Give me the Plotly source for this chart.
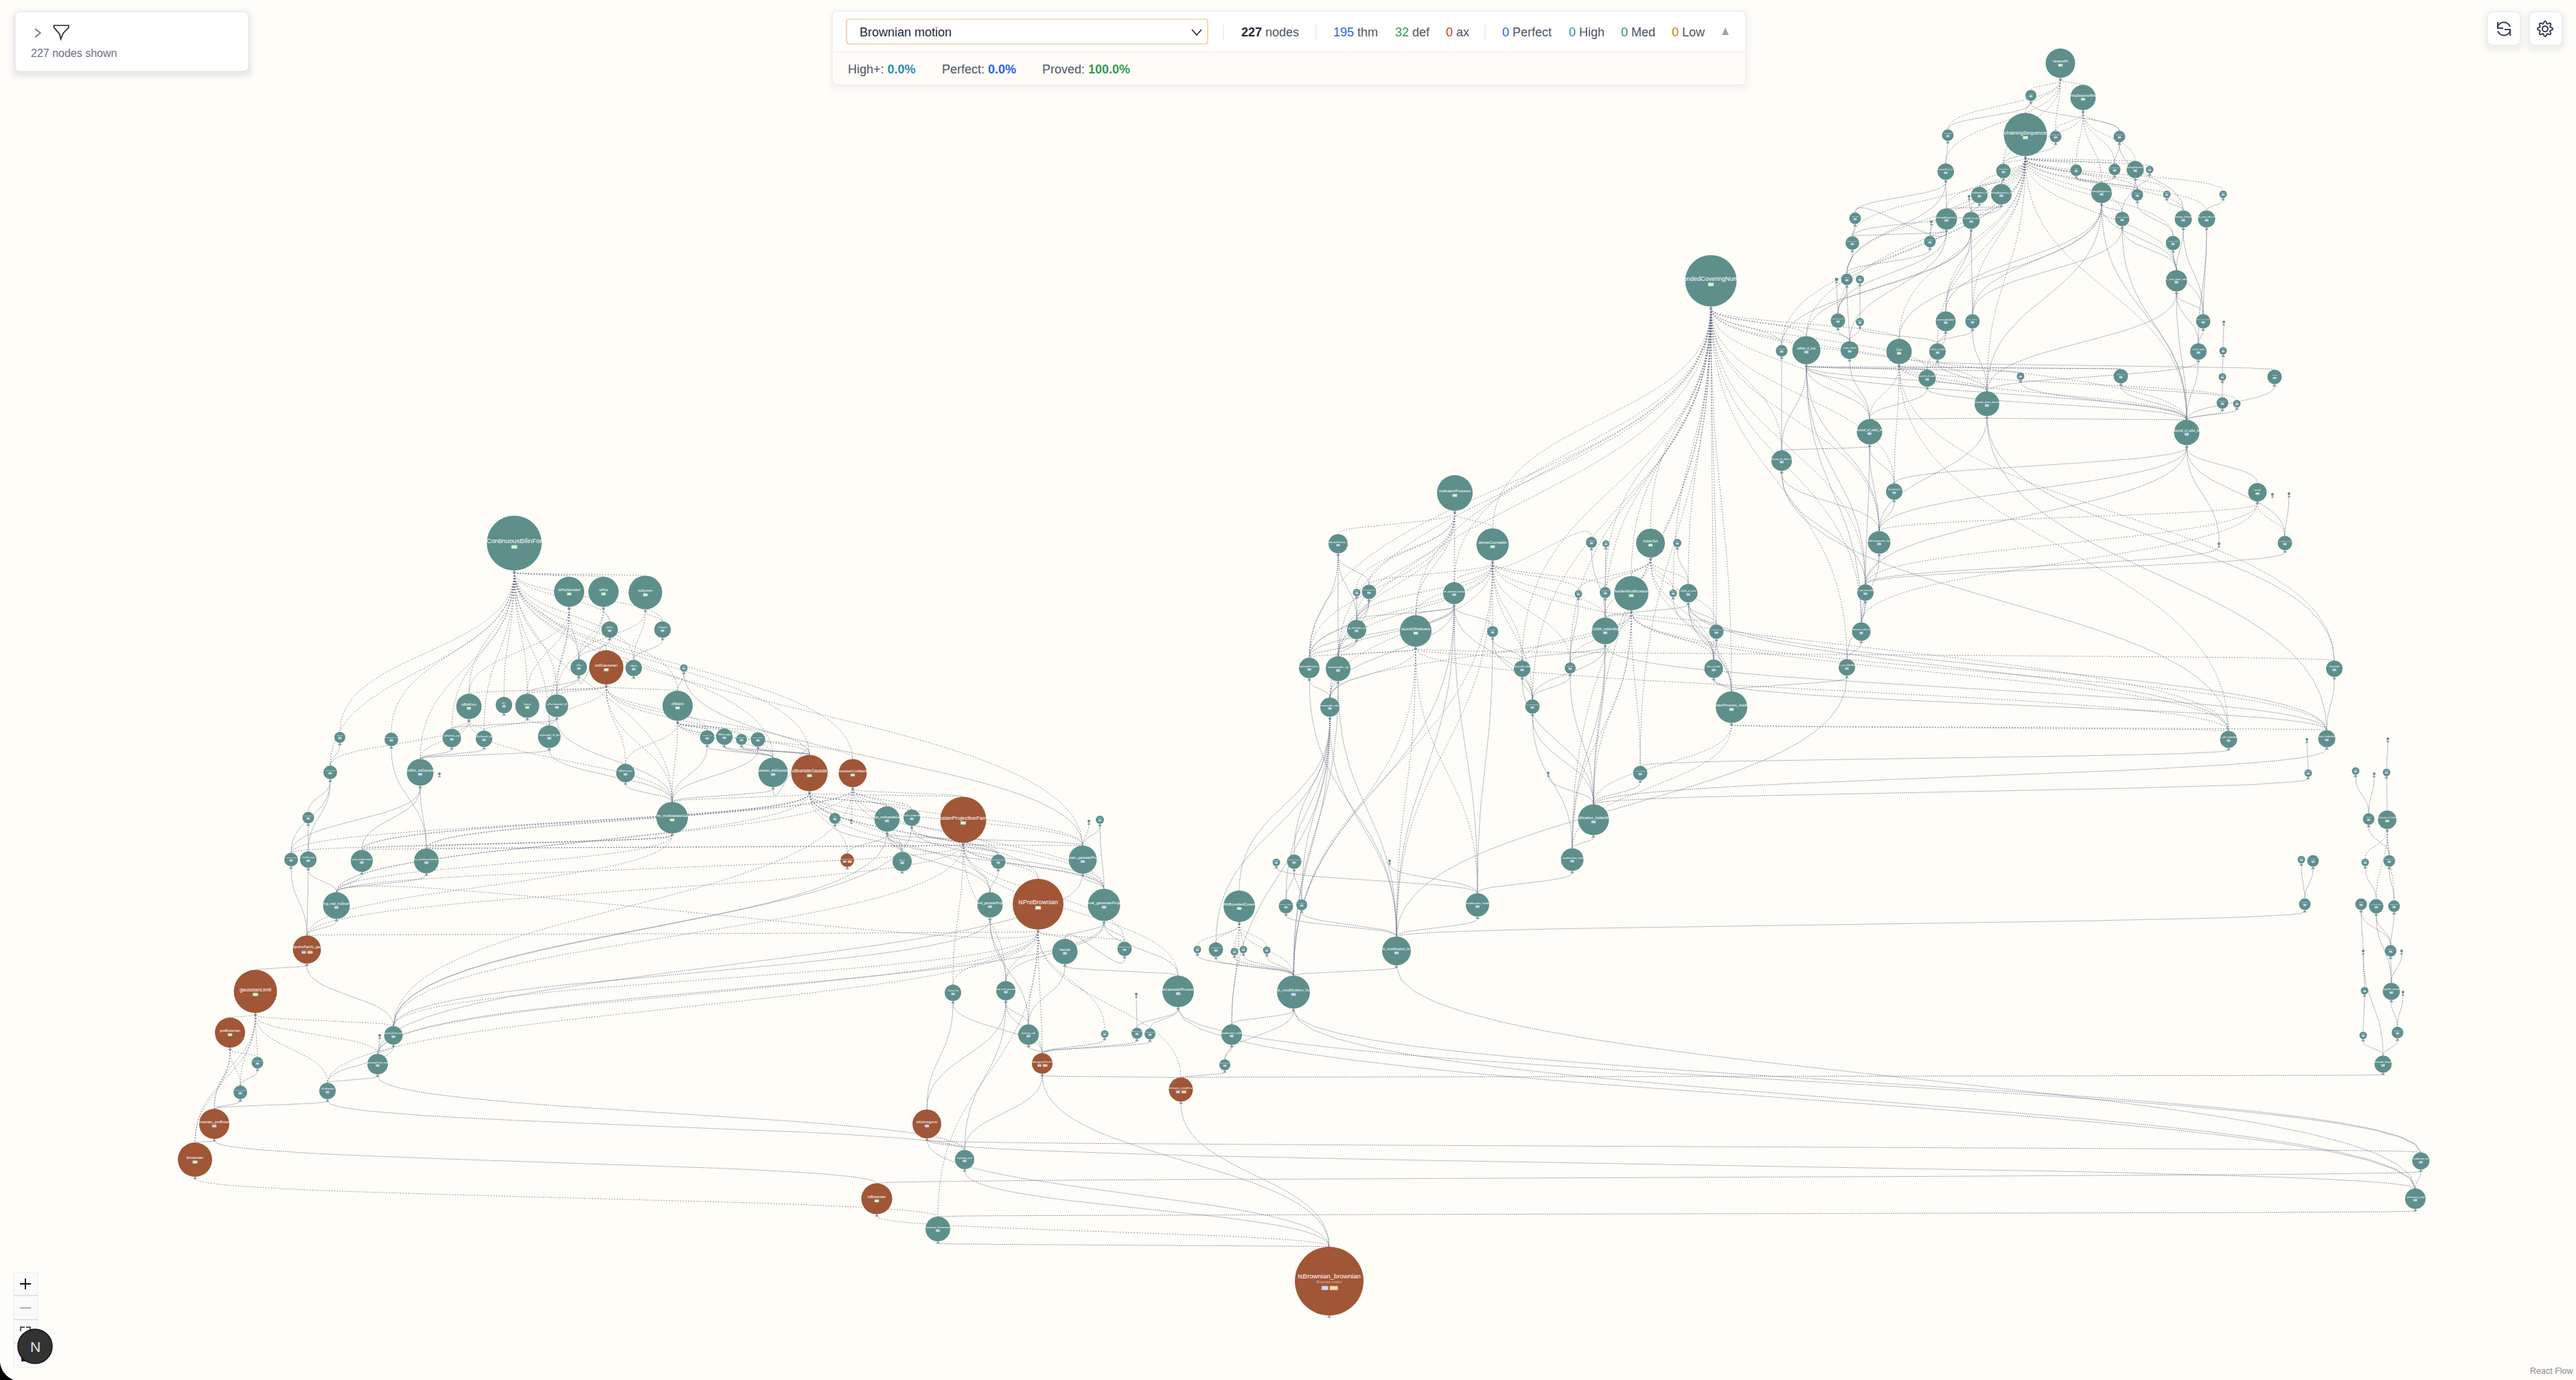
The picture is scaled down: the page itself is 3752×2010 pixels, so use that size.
import numpy as np
import plotly.graph_objects as go

W, H = 3752, 2010

# ---- nodes (pixel position on the canvas, diameter) ----
node_x = [
    3001, 2958, 3034, 2950, 2837, 2994, 3087, 2834, 2918, 3024,
    3080, 3110, 3131, 2883, 2915, 2868, 3061, 3113, 3156, 3238,
    2835, 2871, 2813, 3091, 3180, 3214, 2811, 3165, 3170, 2702,
    2698, 2492, 2675, 2690, 2709, 2677, 2709, 2834, 2873, 3209,
    3239, 2595, 2631, 2694, 2766, 2822, 3202, 3238, 2807, 2943,
    3089, 3237, 3313, 2894, 3237, 3258, 2723, 3185, 2595, 2759,
    3288, 3310, 3334, 2737, 3328, 3232, 2404, 2443, 2459, 2437,
    2717, 2500, 2711, 2496, 2690, 2522, 3400, 2119, 1949, 2174,
    2318, 2339, 1976, 1994, 2118, 2299, 2338, 2376, 1976, 2062,
    2174, 2338, 1907, 1949, 2217, 2287, 1937, 2232, 2389, 2255,
    2024, 1859, 1885, 2290, 2321, 1805, 1873, 1896, 2152, 1744,
    1771, 1798, 1811, 1845, 2034, 1716, 1884, 1794, 1784, 3246,
    3389, 3360, 3478, 3362, 3431, 3458, 3476, 3450, 3477, 3352,
    3369, 3445, 3480, 3357, 3439, 3461, 3487, 3482, 3442, 3498,
    3444, 3483, 3500, 3442, 3492, 3471, 3526, 3518, 749, 829,
    879, 940, 888, 965, 843, 883, 923, 996, 683, 734,
    768, 811, 987, 658, 705, 800, 1030, 1055, 1080, 1104,
    612, 640, 911, 1126, 1179, 1242, 979, 1216, 1240, 1292,
    1328, 1403, 1586, 1602, 1314, 1454, 1577, 1234, 1442, 1512,
    1608, 1551, 1638, 1388, 1465, 1655, 1498, 1609, 1656, 1675,
    1518, 1720, 495, 570, 481, 449, 424, 449, 527, 621,
    490, 447, 372, 335, 573, 553, 375, 550, 350, 477,
    312, 284, 1277, 1350, 1405, 1366, 1936,
]
node_y = [
    92, 139, 142, 196, 197, 199, 199, 250, 249, 248,
    247, 247, 247, 284, 283, 286, 281, 284, 283, 283,
    319, 321, 323, 319, 319, 319, 352, 354, 409, 318,
    354, 409, 407, 407, 407, 467, 469, 468, 468, 468,
    469, 511, 510, 510, 512, 512, 512, 511, 551, 548,
    548, 549, 549, 588, 587, 588, 629, 630, 671, 716,
    717, 720, 719, 790, 791, 792, 791, 791, 864, 864,
    863, 920, 920, 974, 972, 1030, 974, 718, 792, 793,
    790, 792, 863, 862, 864, 865, 863, 864, 917, 919,
    920, 919, 973, 974, 974, 973, 1030, 1029, 1126, 1126,
    1254, 1256, 1255, 1252, 1194, 1320, 1320, 1318, 1318, 1383,
    1383, 1386, 1383, 1384, 1385, 1444, 1445, 1507, 1551, 1077,
    1076, 1077, 1076, 1126, 1123, 1127, 1125, 1193, 1194, 1252,
    1254, 1256, 1254, 1317, 1317, 1320, 1320, 1385, 1385, 1385,
    1443, 1444, 1445, 1508, 1504, 1550, 1691, 1746, 791, 862,
    862, 863, 917, 917, 972, 972, 973, 973, 1029, 1027,
    1028, 1028, 1028, 1075, 1076, 1073, 1074, 1073, 1077, 1077,
    1125, 1127, 1126, 1125, 1126, 1126, 1191, 1192, 1195, 1193,
    1191, 1194, 1196, 1194, 1255, 1255, 1252, 1253, 1318, 1317,
    1318, 1386, 1382, 1446, 1443, 1448, 1507, 1506, 1505, 1506,
    1549, 1587, 1074, 1077, 1125, 1191, 1252, 1252, 1254, 1254,
    1319, 1383, 1444, 1504, 1508, 1508, 1548, 1550, 1591, 1589,
    1637, 1689, 1746, 1637, 1689, 1790, 1866,
]
node_d = [
    43, 16, 37, 63, 17, 17, 17, 24, 21, 17,
    17, 25, 11, 24, 30, 4, 30, 17, 11, 11,
    31, 25, 4, 21, 25, 25, 17, 21, 31, 17,
    20, 75, 5, 17, 12, 21, 12, 29, 21, 21,
    4, 17, 41, 26, 37, 24, 24, 11, 25, 11,
    21, 11, 21, 36, 17, 11, 37, 37, 30, 24,
    27, 4, 4, 33, 21, 4, 42, 12, 27, 11,
    24, 21, 27, 27, 24, 46, 24, 52, 28, 47,
    16, 10, 11, 21, 32, 11, 16, 50, 28, 46,
    16, 39, 30, 36, 24, 16, 28, 21, 21, 4,
    4, 11, 21, 33, 45, 46, 21, 16, 34, 11,
    21, 11, 11, 11, 42, 46, 48, 30, 16, 25,
    25, 4, 4, 11, 11, 4, 11, 17, 27, 11,
    17, 11, 17, 17, 17, 21, 17, 17, 4, 4,
    11, 25, 4, 11, 17, 25, 25, 30, 80, 44,
    44, 49, 24, 24, 24, 50, 24, 11, 37, 24,
    35, 33, 44, 27, 24, 33, 21, 24, 16, 21,
    39, 4, 27, 43, 53, 41, 46, 16, 4, 37,
    24, 67, 4, 12, 28, 21, 41, 20, 37, 74,
    47, 37, 21, 24, 28, 4, 30, 11, 16, 16,
    30, 35, 16, 20, 20, 17, 20, 24, 32, 36,
    39, 41, 63, 44, 27, 4, 17, 30, 20, 24,
    44, 50, 45, 42, 28, 36, 100,
]
node_labels = [
    "nearestPt", "eq_1", "chainingSequenceReverse", "chainingSequence", "eq_nearestPt", "nearestPt_mem", "nearestPt_le", "nearestPt_or_le", "nearestPtRev", "eq_1",
    "nearestPt_dist", "chainingSequence_le", "chain_le", "confSequence_le", "chainingSequence_mem", "", "chainingSequence_dist", "chain_dist", "chain_mem", "chain_sub",
    "chainingSequence_le", "le_edist_to_sum", "", "average_chaining", "average_chaining", "le_cover_edist_to", "le_edist_le", "le_sum_edist", "le_sum_rpow_edist", "chain_sum",
    "chain_le_sum", "boundedCoveringNumber", "", "cover_le", "cover", "cardinal_cover", "mem_cov", "coveringNumber", "cover_edist_le", "sum_rpow_edist",
    "", "card_cover", "edian_lt_top", "cover_subset", "Cov", "card_le_of_mem", "card_le_rpow", "le_rpow", "card_le_of_mem", "le",
    "edist_le_of", "le_pow", "subset", "second_term_bound", "card_pow", "rpow_le", "bound_of_edist_le", "bound_of_edist_le", "bound_of_edist_le", "dist_bound_of",
    "overall", "", "", "holderexponent_chain", "bounds_le_sum", "", "holderSet", "holder_le", "IsWith_of_mem", "holder_sub",
    "le_sum_measurable", "measurable_of", "measure_edist_le", "dists_of_mem", "le_sum_holderMod", "IndicatorProcess_holderMod", "measurable", "indicatorProcess", "indicatorProcess_eq", "denseCountable",
    "measure_le", "le_mem", "measure", "set_measurable", "mem_denseCountable", "measure_le", "countable_of", "holderModification", "ge_limUnder_eq", "isLimitOfIndicator",
    "indicator", "OnWith_holderMod", "indicatorProcess_le", "measurable_eq", "measurable_holder", "le_measure", "measurable_edist", "ae_measurable", "eqOn_holder", "",
    "", "measure_eq", "measure_dense", "ae_modification_holder", "modification_holderMod", "WithBoundedCovering", "exists_of_edist_le", "ae_edist_le", "modification_holder", "le_of_edist",
    "hasBounded", "eq_rpow", "rpow_le", "le_rpow", "exists_modification_holder", "isGaussianProcess", "exists_modification_holder", "modification_holder", "modification_eq", "le_edist_holderMod",
    "exists_holderMod", "", "", "le_cover_sum", "le_cover", "", "le_bound", "isCauchy", "isCauchy_of_tendsto", "le_volume",
    "volume", "le_bound", "tendsto_of_le", "measure_le", "integral", "le_measurable", "integral_mul", "bound_le", "", "",
    "le", "integrable_measure", "", "lintegral", "lintegral_le", "measurable_lintegral", "modification_lim", "continuous_mod", "ContinuousBilinForm", "isPosSemidef",
    "isPos", "isSymm", "toIsPos", "toIsSymm", "isPos", "stdGaussian", "isSymm", "ofMatrix", "isBilinForm", "eq_1",
    "linear", "isPosSemidef_iff", "ofMatrix", "IsBilinForm_add", "isPosSemidef_sub", "isSemidef_iff_bilin", "ofMatrix_eq", "ofMatrix_apply", "toBilin_apply", "trace_ofMatrix",
    "coeBilin_stdGaussian", "", "ofMatrix_basis", "gaussian_stdGaussian", "multivariateGaussian", "brownianCovMatrix", "coeBilin_multivariateGaussian", "eq_1", "", "gaussian_multivariateGaussian",
    "charFun_multivariate", "gaussianProjectiveFamily", "", "isProjective", "eq_1", "gaussianProject", "isGaussian_gaussianProjective", "brownianProjective", "map_eval_gaussianProjective", "IsPreBrownian",
    "map_eval_gaussianProjective", "hasLaw", "gaussianProject", "hasLaw_eq", "map_eval_gaussian", "", "hasLaw_sub", "hasLaw_eq", "hasLaw_sub_eval", "hasLaw_integrable",
    "KolmogorovProcess", "continuous_modification", "isPos_add", "isPosSemidef_eq", "ofMatrix_add", "map_charFun", "charFun_basis", "charFun_map", "eval_multivariate", "charFun_multivariateGaussian",
    "using_eval_multivariate", "isProjectiveFamily_gaussian", "gaussianLimit", "preBrownian", "gaussianLimit_eval", "", "eval_covariance", "gaussianLimit_eval", "eval_eq_add", "isPreBrownian",
    "IsBrownian_preBrownian", "brownian", "isBrownian", "isKolmogorov", "hasIndep_eval", "hasLaw_brownian", "IsBrownian_brownian",
]

# ---- which nodes carry a definition badge / a proof badge pair / an orange fill ----
def_ids = [0, 2, 3, 31, 44, 60, 66, 77, 79, 87, 89, 105, 148, 149, 150, 151, 155, 158, 160, 162, 174, 175, 176, 181, 189, 212, 213, 221, 222, 128, 75, 182]
pair_ids = [187, 200, 201, 211, 226]
orange_ids = [155, 174, 175, 181, 187, 189, 200, 201, 211, 212, 213, 220, 221, 222, 223, 226]
subtitles = {187: "Brownian covariance", 200: "Kolmogorov process", 201: "continuous modification", 211: "projective family", 226: "Brownian motion"}

# ---- edges: upper node -> nodes below that depend on it ----
deps_top = {
    0: [1, 2, 3, 4, 5, 7, 8],
    1: [4, 6],
    2: [5, 6, 8, 9, 10, 11, 16],
    3: [8, 9, 10, 11, 12, 13, 14, 16, 17, 18, 19, 20, 21, 23, 24, 25, 26, 27, 28, 30, 33, 35, 37, 38, 41, 42, 44, 45, 53, 57],
    4: [7], 5: [8], 6: [10, 24], 7: [20, 29, 33], 8: [13, 14], 9: [16, 17],
    10: [16], 11: [17, 23], 12: [17], 13: [21], 14: [20, 21, 30], 15: [21], 16: [23, 28, 37, 38, 44, 53, 57],
    17: [27], 18: [24], 19: [25], 20: [29, 30, 35, 43], 21: [37, 38, 41, 42], 22: [26], 23: [28, 38, 57],
    24: [28, 39], 25: [39, 46], 26: [33], 27: [28, 39], 28: [39, 46, 53, 57], 29: [30], 30: [33],
}
deps_mid = {
    31: [41, 42, 43, 44, 48, 53, 56, 57, 58, 59, 63, 66, 68, 69, 70, 71, 72, 73, 74, 75, 79, 84, 86, 87, 89, 91, 92, 93, 94, 95, 96, 97, 98, 103, 104],
    32: [35], 33: [35, 43], 34: [36], 35: [43], 36: [43, 45], 37: [45, 48], 38: [45, 53], 39: [46], 40: [47],
    41: [58], 42: [48, 49, 50, 53, 56, 57, 58, 63, 70, 72], 43: [56], 44: [48, 50, 53, 55, 56, 57, 59, 76, 119],
    45: [48, 52, 53], 46: [53, 57], 47: [51], 48: [56, 57], 49: [57], 50: [54, 57], 51: [54], 52: [57], 53: [56, 57, 63, 76, 120],
    54: [57], 55: [57], 56: [58, 59, 63, 70], 57: [59, 60, 63, 64, 65, 70], 58: [63, 70, 119], 59: [63],
    60: [63, 64, 70, 72], 62: [64], 63: [70, 72], 64: [70], 65: [70], 66: [68, 69, 71, 73, 75, 85, 86, 87, 91],
    67: [68], 68: [71, 73, 75, 91, 119, 120], 69: [73], 70: [72, 74], 71: [73, 75], 72: [74], 73: [75, 120], 74: [75, 114], 75: [103, 104, 119, 120], 76: [120],
}
deps_center = {
    77: [78, 79, 82, 83, 84, 88, 89, 92, 93],
    78: [83, 88, 92, 93], 79: [80, 83, 84, 85, 86, 88, 89, 90, 91, 92, 93, 94, 95, 96, 97, 114, 116, 119],
    80: [91], 81: [86], 82: [88], 83: [88, 92, 93], 84: [88, 89, 90, 92, 93, 96, 97, 108, 114, 116],
    85: [95], 86: [91], 87: [71, 73, 91, 94, 95, 96, 98, 103, 104, 119, 120], 88: [92, 93],
    89: [76, 92, 93, 94, 96, 108, 114, 116, 119], 90: [94, 97, 108], 91: [94, 95, 97, 103, 104, 120], 92: [96, 114], 93: [96, 114, 116],
    94: [97, 104], 95: [97, 104], 96: [102, 105, 106, 107, 110, 114, 116, 117], 97: [103, 104], 98: [104], 99: [104],
    100: [108], 101: [108], 102: [106, 107], 103: [108], 104: [103], 105: [109, 110, 111, 112, 113, 116, 117],
    106: [114], 107: [114], 108: [114], 109: [116], 110: [116], 111: [116], 112: [116], 113: [116],
    114: [116, 147], 115: [146, 147], 116: [117, 118, 146, 147], 117: [118], 118: [201],
}
deps_right = {
    119: [98], 120: [104], 121: [123], 122: [126], 123: [104], 124: [127], 125: [127], 126: [128], 127: [132], 128: [131, 132, 135, 136],
    129: [133], 130: [133], 131: [135], 132: [136], 133: [114], 134: [137, 138], 135: [137, 141], 136: [137], 137: [141],
    138: [140, 145], 139: [141], 140: [143], 141: [144], 142: [144], 143: [145], 144: [145], 145: [201], 146: [147, 222], 147: [225],
}
deps_left = {
    148: [149, 150, 151, 152, 153, 154, 156, 158, 159, 160, 161, 162, 163, 164, 165, 170, 173, 174, 175, 176, 186, 202, 203, 204],
    149: [154, 158, 160, 161, 165], 150: [152, 154, 161], 151: [153, 154, 156], 152: [154], 153: [156], 154: [155, 160, 161],
    155: [158, 160, 161, 162, 165, 166, 172, 173, 174, 176], 157: [162, 186], 158: [163, 164, 170, 176, 204], 160: [164, 165],
    161: [163, 165, 176], 162: [166, 167, 168, 169, 172, 173, 174, 175, 176], 163: [170], 164: [170], 165: [170, 176],
    166: [173, 176], 167: [173, 174], 168: [173, 174], 169: [174, 176], 170: [206, 208, 209], 172: [176], 173: [174, 176],
    174: [176, 177, 179, 180, 181, 184, 185, 186, 187, 188, 189, 190, 206, 208, 209, 210], 175: [178, 179, 180, 181, 184, 186, 190, 208, 209, 210, 214],
    176: [206, 208, 209, 210, 211], 177: [184], 179: [184, 185, 186, 187, 188, 190, 214], 180: [185, 190, 214],
    181: [185, 186, 188, 189, 190, 192, 193, 194, 208, 209, 210, 211, 214, 115], 182: [186], 183: [186, 190], 185: [188], 186: [190, 217],
    188: [194, 196, 214], 189: [191, 192, 193, 194, 196, 197, 200, 201, 210, 211, 214, 217, 219, 225], 190: [115, 191, 192, 194, 217], 191: [115, 196], 192: [191],
    193: [200, 223], 194: [196, 200, 223, 224], 195: [198], 196: [200], 197: [200], 198: [200], 199: [200], 115: [198, 199], 200: [201, 224, 226], 201: [226],
    202: [204], 203: [209], 204: [205, 206, 207], 205: [207], 206: [211], 207: [210, 211], 208: [210], 209: [210], 210: [211], 211: [212, 214],
    212: [213, 214, 216, 217, 218, 219, 220, 221], 213: [216, 218, 220, 221], 214: [217, 219], 215: [217], 216: [218], 217: [219, 224], 218: [220], 219: [220, 224],
    220: [221, 222], 221: [225], 222: [226], 223: [146, 147, 226], 224: [226], 225: [226],
}

# ---- toolbar text ----
stat_labels = ["<b>227</b> nodes", "195 thm", "32 def", "0 ax", "0 Perfect", "0 High", "0 Med", "0 Low"]
stat_x = [1806, 1940, 2030, 2104, 2186, 2283, 2359, 2433]
stat_colors = ["#1f2937", "#2563eb", "#2e9e4f", "#d03030", "#2563eb", "#2b8fb0", "#2f8f6f", "#b8860b"]
pct_labels = ["High+:", "Perfect:", "Proved:"]
pct_values = ["0.0%", "0.0%", "100.0%"]
pct_x = [1233, 1370, 1516]
pct_colors = ["#2b8fb0", "#2563eb", "#2e9e4f"]

BG = "#fefdf8"
TEAL = "#5e8f8b"
ORANGE = "#a05637"
EDGE = "rgba(100,108,134,0.82)"
FONT = "Liberation Sans"


def edge_points(x1, y1, x2, y2, n=26):
    """bezier as react flow draws it, vertical tangent at both ends"""
    d = y2 - y1
    off = 0.5 * d if d >= 0 else 6.25 * np.sqrt(-d)
    t = np.linspace(0, 1, n)
    c1, c2 = y1 + off, y2 - off
    xs = (1 - t) ** 3 * x1 + 3 * (1 - t) ** 2 * t * x1 + 3 * (1 - t) * t**2 * x2 + t**3 * x2
    ys = (1 - t) ** 3 * y1 + 3 * (1 - t) ** 2 * t * c1 + 3 * (1 - t) * t**2 * c2 + t**3 * y2
    return xs, ys


def rounded(x0, y0, x1, y1, r):
    return (f"M{x0+r},{y0} L{x1-r},{y0} Q{x1},{y0} {x1},{y0+r} L{x1},{y1-r} Q{x1},{y1} {x1-r},{y1} "
            f"L{x0+r},{y1} Q{x0},{y1} {x0},{y1-r} L{x0},{y0+r} Q{x0},{y0} {x0+r},{y0} Z")


def poly(xs, ys, close=False):
    p = "M" + " L".join(f"{a:.2f},{b:.2f}" for a, b in zip(xs, ys))
    return p + (" Z" if close else "")


def panel(x0, y0, x1, y1, r, fill="white", line="#e3e5ea", shadow=1.0):
    out = []
    for grow, alpha in [(10, 0.012), (7, 0.018), (4, 0.025), (2, 0.03)]:
        out.append(dict(type="path", path=rounded(x0 - grow, y0 - grow + 4, x1 + grow, y1 + grow + 4, r + grow),
                        fillcolor=f"rgba(30,40,60,{alpha * shadow})", line_width=0, layer="above"))
    out.append(dict(type="path", path=rounded(x0, y0, x1, y1, r), fillcolor=fill,
                    line=dict(color=line, width=1), layer="above"))
    return out


def stroke(path, color="#1f2937", width=1.6, fill=None):
    s = dict(type="path", path=path, line=dict(color=color, width=width), layer="above")
    if fill:
        s["fillcolor"] = fill
    return s


# sample all edges
all_deps = [deps_top, deps_mid, deps_center, deps_right, deps_left]
def_set = set(def_ids)
solid_x, solid_y, dash_x, dash_y = [], [], [], []
for deps in all_deps:
    for up, lows in deps.items():
        for lo in lows:
            xs, ys = edge_points(node_x[up], node_y[up] + node_d[up] / 2 + 3,
                                 node_x[lo], node_y[lo] - node_d[lo] / 2)
            if up in def_set:
                dash_x += list(xs) + [None]
                dash_y += list(ys) + [None]
            else:
                solid_x += list(xs) + [None]
                solid_y += list(ys) + [None]

fig = go.Figure()
fig.add_trace(go.Scatter(x=solid_x, y=solid_y, mode="lines", hoverinfo="skip",
                         line=dict(color=EDGE, width=0.8, dash="2px,1px")))
fig.add_trace(go.Scatter(x=dash_x, y=dash_y, mode="lines", hoverinfo="skip",
                         line=dict(color=EDGE, width=0.8, dash="2px,2px")))

# arrow heads under each node
fig.add_trace(go.Scatter(x=node_x, y=[y + d / 2 + 2 for y, d in zip(node_y, node_d)], mode="markers", hoverinfo="skip",
                         marker=dict(symbol="triangle-up", size=[5 if d > 5 else 4 for d in node_d], color="#8d94a8", line_width=0, opacity=1)))

# node circles
orange_set = set(orange_ids)
fig.add_trace(go.Scatter(x=node_x, y=node_y, mode="markers", text=node_labels, hoverinfo="text",
                         marker=dict(size=node_d, line_width=0, opacity=1,
                                     color=[ORANGE if i in orange_set else TEAL for i in range(len(node_x))])))

# labels, cropped to the circle like the overflow hidden in the app
shown, sizes, lab_x, lab_y = [], [], [], []
for i, (name, d) in enumerate(zip(node_labels, node_d)):
    if d < 10 or not name:
        continue
    fs = max(min(d * 0.12, 9.6), 1)
    keep = int(d / (fs * 0.49)) + 1
    if len(name) > keep:
        cut = (len(name) - keep) // 2
        name = name[cut:cut + keep]
    shown.append(name)
    sizes.append(fs)
    lab_x.append(node_x[i])
    lab_y.append(node_y[i] - (0.067 * d if i in pair_ids else 2.3))
fig.add_trace(go.Scatter(x=lab_x, y=lab_y, mode="text", text=shown, hoverinfo="skip",
                         textfont=dict(family=FONT, size=sizes, color="#ffffff")))
fig.add_trace(go.Scatter(x=[node_x[i] for i in subtitles], y=[node_y[i] + 0.02 * node_d[i] for i in subtitles],
                         mode="text", text=list(subtitles.values()), hoverinfo="skip",
                         textfont=dict(family=FONT, size=[max(node_d[i] * 0.05, 1) for i in subtitles], color="rgba(255,255,255,0.6)")))

shapes = []
# status badges
for i, d in enumerate(node_d):
    if d < 10:
        continue
    bw = 3.5 + 0.06 * d
    bh = bw * 0.6
    cx, cy = node_x[i], node_y[i] + 0.07 * d
    if i in pair_ids:
        cy = node_y[i] + 0.1 * d
        shapes.append(dict(type="rect", x0=cx - bw - 1.5, x1=cx - 1.5, y0=cy - bh / 2, y1=cy + bh / 2, layer="above",
                           fillcolor="#c9d8fb", line=dict(color="#9db4ea", width=0.4)))
        shapes.append(dict(type="rect", x0=cx + 1, x1=cx + 1 + bw * 1.2, y0=cy - bh / 2, y1=cy + bh / 2, layer="above",
                           fillcolor="#fcd9a8", line=dict(color="#e8b878", width=0.4)))
    else:
        col = "#d6f5d6" if i in def_set else "#c9d8fb"
        shapes.append(dict(type="rect", x0=cx - bw / 2, x1=cx + bw / 2, y0=cy - bh / 2, y1=cy + bh / 2, layer="above",
                           fillcolor=col, line=dict(color="#9fcfa8" if i in def_set else "#9db4ea", width=0.4)))

# filter panel
shapes += panel(22, 17, 362, 104, 9)
shapes.append(stroke("M51,42 L59,48 L51,54", "#6b7280", 1.6))
shapes.append(stroke("M78.5,37 L100,37 L100,40 L92,48.5 L88.5,57 L87,50 L78.5,40 Z", "#1f2937", 1.7))

# toolbar panel
shapes += panel(1212, 16, 2543, 124, 8, shadow=0.35)
shapes.append(dict(type="path", path="M1213,76 L2542,76 L2542,116 Q2542,123 2535,123 L1220,123 Q1213,123 1213,116 Z",
                   fillcolor="#fffcf8", line_width=0, layer="above"))
shapes.append(dict(type="line", x0=1213, x1=2542, y0=76, y1=76, line=dict(color="#f5e8dc", width=1), layer="above"))
shapes.append(dict(type="path", path=rounded(1233, 28, 1759, 64, 4), fillcolor="white", line=dict(color="#f6b872", width=1.2), layer="above"))
shapes.append(stroke("M1736,43 L1743,51 L1750,43", "#1f2937", 1.5))
for sx in [1782, 1917, 2163]:
    shapes.append(dict(type="line", x0=sx, x1=sx, y0=36, y1=58, line=dict(color="#dcdfe4", width=1), layer="above"))
shapes.append(dict(type="path", path="M2508,51 L2513,40 L2518,51 Z", fillcolor="#9ca3af", line_width=0, layer="above"))

# top right buttons
shapes += panel(3623, 17, 3671, 66, 9, shadow=0.6)
shapes += panel(3684, 17, 3732, 66, 9, shadow=0.6)
ang = np.radians(np.linspace(-170, -20, 24))
shapes.append(stroke(poly(3647 + 9.5 * np.cos(ang), 42 + 9.5 * np.sin(ang)), "#374151", 2))
ang = np.radians(np.linspace(10, 160, 24))
shapes.append(stroke(poly(3647 + 9.5 * np.cos(ang), 42 + 9.5 * np.sin(ang)), "#374151", 2))
shapes.append(stroke("M3638,32 L3638,41 L3646,41", "#374151", 2))
shapes.append(stroke("M3656,52 L3656,43 L3648,43", "#374151", 2))
ang = np.linspace(0, 2 * np.pi, 97)
gear_r = 9.5 + 1.6 * np.cos(8 * ang)
shapes.append(stroke(poly(3707 + gear_r * np.cos(ang), 42 + gear_r * np.sin(ang), True), "#374151", 2))
shapes.append(stroke(poly(3707 + 4 * np.cos(ang), 42 + 4 * np.sin(ang), True), "#374151", 2))

# zoom controls bottom left
shapes.append(dict(type="path", path="M0,1985 Q3,2003 20,2010 L0,2010 Z", fillcolor="#050505", line_width=0))
shapes.append(dict(type="rect", x0=20, x1=55, y0=1853, y1=1992, fillcolor="#fafafa", line=dict(color="#eeeeee", width=1), layer="above"))
for sy in [1887, 1922, 1956]:
    shapes.append(dict(type="line", x0=20, x1=55, y0=sy, y1=sy, line=dict(color="#c4d0dc", width=1), layer="above"))
shapes.append(stroke("M29,1870 L45,1870 M37,1862 L37,1878", "#111111", 1.8))
shapes.append(stroke("M29,1905 L45,1905", "#a8a8a8", 1.8))
shapes.append(stroke("M30,1939 L30,1933 L36,1933 M38,1933 L44,1933 L44,1939", "#222222", 1.5))
shapes.append(dict(type="rect", x0=31, x1=43, y0=1968, y1=1983, fillcolor="#222222", line_width=0, layer="above"))
shapes.append(dict(type="circle", x0=26, x1=76, y0=1936, y1=1986, fillcolor="#333333", line=dict(color="#111111", width=1.5), layer="above"))

annotations = [
    dict(x=43, y=77, text="227 nodes shown", font=dict(size=16, color="#6b7280")),
    dict(x=1250, y=47, text="Brownian motion", font=dict(size=18, color="#1f2937")),
    dict(x=3716, y=1997, text="React Flow", font=dict(size=12.5, color="#8b8b8b"), xanchor="center"),
    dict(x=51, y=1961, text="N", font=dict(size=21, color="#e8e8e8"), xanchor="center"),
]
for lab, sx, col in zip(stat_labels, stat_x, stat_colors):
    num, word = lab.split(" ")
    annotations.append(dict(x=sx, y=47, font=dict(size=18, color="#4b5563"),
                            text=f"<span style='color:{col}'>{num}</span> {word}"))
for lab, val, sx, col in zip(pct_labels, pct_values, pct_x, pct_colors):
    annotations.append(dict(x=sx, y=101, font=dict(size=18, color="#4b5563"),
                            text=f"{lab} <span style='color:{col}'><b>{val}</b></span>"))
for a in annotations:
    a.setdefault("xanchor", "left")
    a.update(xref="x", yref="y", showarrow=False, yanchor="middle", font=dict(a["font"], family=FONT))

fig.update_layout(width=W, height=H, margin=dict(l=0, r=0, t=0, b=0), showlegend=False,
                  plot_bgcolor=BG, paper_bgcolor=BG, hovermode="closest",
                  shapes=shapes, annotations=annotations)
fig.update_xaxes(range=[0, W], visible=False, fixedrange=True)
fig.update_yaxes(range=[H, 0], visible=False, fixedrange=True)

fig.write_html("out.html", config={"displayModeBar": False},
               post_script="document.body.style.margin='0';document.body.style.overflow='hidden';document.body.style.background='#fefdf8';")
